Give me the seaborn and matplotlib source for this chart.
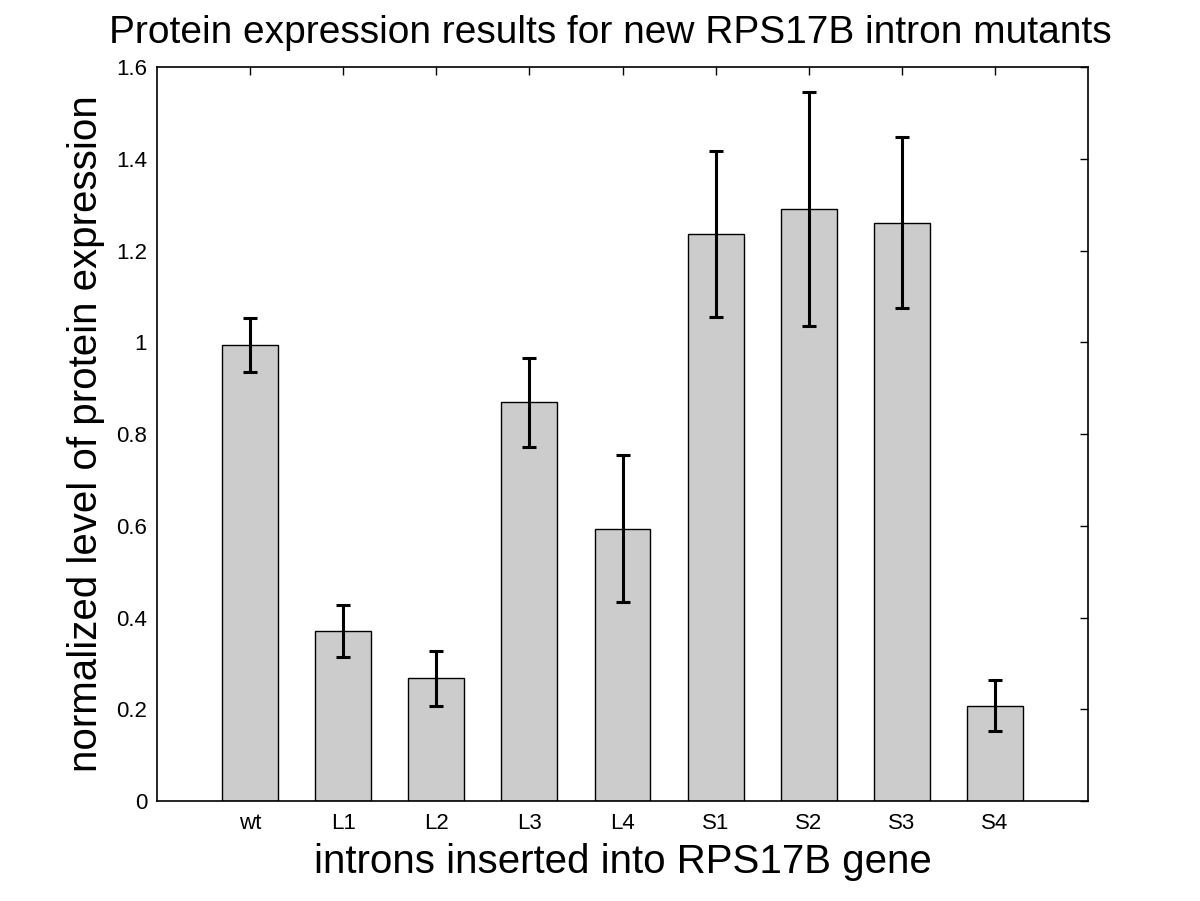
import numpy as np
import pandas as pd
import matplotlib
matplotlib.use('Agg')
import matplotlib.pyplot as plt
import seaborn as sns

# data
mutants = ['wt', 'L1', 'L2', 'L3', 'L4', 'S1', 'S2', 'S3', 'S4']
expression = [0.994, 0.371, 0.268, 0.869, 0.594, 1.235, 1.291, 1.261, 0.208]
errors = [0.058, 0.057, 0.060, 0.097, 0.160, 0.181, 0.255, 0.186, 0.055]
yticks = [0, 0.2, 0.4, 0.6, 0.8, 1, 1.2, 1.4, 1.6]
ytick_labels = ['0', '0.2', '0.4', '0.6', '0.8', '1', '1.2', '1.4', '1.6']

sns.set_style('white')
plt.rcParams['font.family'] = ['Liberation Sans', 'DejaVu Sans']
plt.rcParams['text.color'] = 'black'
plt.rcParams['axes.labelcolor'] = 'black'

df = pd.DataFrame({'mutant': mutants, 'expression': expression, 'err': errors})

fig = plt.figure(figsize=(12, 9.01), dpi=100)
ax = fig.add_axes([0.1308, 0.111, 0.7759, 0.8146])

sns.barplot(data=df, x='mutant', y='expression', color='#cccccc',
            edgecolor='black', linewidth=1.0, width=0.6, saturation=1,
            errorbar=None, ax=ax)
ax.errorbar(np.arange(len(mutants)), df['expression'], yerr=df['err'],
            fmt='none', ecolor='black', elinewidth=2.2, capsize=5,
            capthick=2.2, zorder=5)

ax.set_xlim(-1, 9)
ax.set_ylim(0, 1.6)
ax.set_yticks(yticks)
ax.set_yticklabels(ytick_labels)
ax.tick_params(direction='in', length=6, width=1, top=True, right=True,
               labelsize=16, colors='black', pad=7)
ax.tick_params(axis='x', pad=9)

for spine in ax.spines.values():
    spine.set_visible(True)
    spine.set_color('black')
    spine.set_linewidth(1.2)

ax.set_title('Protein expression results for new RPS17B intron mutants',
             fontsize=28, pad=17, x=0.487, color='black')
ax.set_xlabel('introns inserted into RPS17B gene', fontsize=29, labelpad=6)
ax.set_ylabel('normalized level of protein expression', fontsize=29, labelpad=8)

fig.savefig('out.png', dpi=100)
